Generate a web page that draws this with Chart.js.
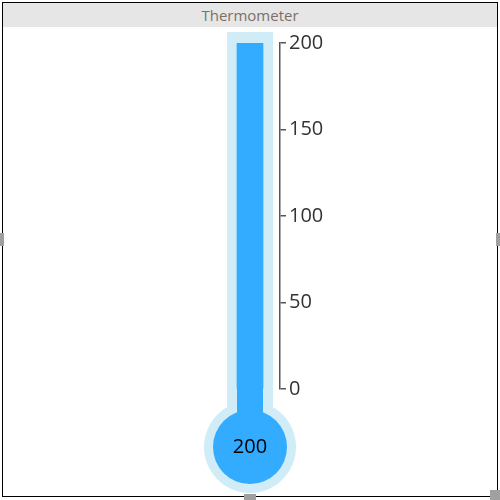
<!DOCTYPE html>
<html>
<head>
<meta charset="utf-8">
<script src="https://cdn.jsdelivr.net/npm/chart.js@4.4.0/dist/chart.umd.min.js"></script>
<style>
  body { margin: 0; background: #fff; width: 500px; height: 500px; position: relative; overflow: hidden; font-family: "Open Sans", sans-serif; }
  #frame { position: absolute; left: 2px; top: 2px; width: 494px; height: 493px; border: 1px solid #000; }
  #title { height: 24px; line-height: 24px; background: #e6e6e6; color: #7b6f68; font-size: 15px; text-align: center; }
  .grip { position: absolute; background: #a0a0a0; }
</style>
</head>
<body>
<div id="frame">
  <div id="title">Thermometer</div>
  <canvas id="chart" width="494" height="469"></canvas>
</div>
<div class="grip" style="left:0;top:233px;width:4px;height:13px"></div>
<div class="grip" style="left:496px;top:233px;width:4px;height:13px"></div>
<div class="grip" style="left:244px;top:494px;width:12px;height:6px"></div>
<div class="grip" style="left:490px;top:490px;width:10px;height:10px"></div>
<script>
const categories = ['Thermometer'];
const values = [200];
const tickValues = [0, 50, 100, 150, 200];
const axisMin = 0;
const axisMax = 200;

const glassColor = '#d0ecf7';
const mercuryColor = '#33abff';

// glass tube + bulb behind the bar, mercury bulb joined to the bar
const thermoPlugin = {
  id: 'thermo',
  beforeDatasetsDraw(chart) {
    const ctx = chart.ctx;
    const y = chart.scales.y;
    const bar = chart.getDatasetMeta(0).data[0];
    const cx = bar.x;
    const zero = y.getPixelForValue(axisMin);
    const top = y.getPixelForValue(axisMax);
    const bulbY = zero + 58;
    ctx.save();
    ctx.fillStyle = glassColor;
    ctx.fillRect(cx - 23, top - 11, 46, bulbY - top + 11);
    ctx.beginPath();
    ctx.arc(cx, bulbY, 46, 0, Math.PI * 2);
    ctx.fill();
    ctx.fillStyle = mercuryColor;
    ctx.fillRect(bar.x - bar.width / 2, zero - 6, bar.width, bulbY - zero + 6);
    ctx.beginPath();
    ctx.arc(cx, bulbY, 37, 0, Math.PI * 2);
    ctx.fill();
    ctx.restore();
  },
  afterDatasetsDraw(chart) {
    const ctx = chart.ctx;
    const bar = chart.getDatasetMeta(0).data[0];
    const bulbY = chart.scales.y.getPixelForValue(axisMin) + 58;
    ctx.save();
    ctx.fillStyle = '#000';
    ctx.font = '20px "Open Sans"';
    ctx.textAlign = 'center';
    ctx.textBaseline = 'middle';
    ctx.fillText(String(values[0]), bar.x, bulbY);
    ctx.restore();
  }
};

new Chart(document.getElementById('chart'), {
  type: 'bar',
  data: {
    labels: categories,
    datasets: [{
      data: values,
      backgroundColor: mercuryColor,
      borderWidth: 0,
      barThickness: 26
    }]
  },
  options: {
    responsive: false,
    animation: false,
    layout: { padding: { left: 217, right: 0, top: 16, bottom: 107 } },
    plugins: { legend: { display: false }, tooltip: { enabled: false } },
    scales: {
      x: { display: false },
      y: {
        position: 'right',
        min: axisMin,
        max: axisMax,
        afterBuildTicks: s => { s.ticks = tickValues.map(v => ({ value: v })); },
        afterFit: s => { s.width = 217; },
        border: { display: true, color: '#555', width: 1.5 },
        grid: { drawOnChartArea: false, tickLength: 6, color: '#555', lineWidth: 1.5 },
        ticks: { color: '#333', padding: 3, font: { family: 'Open Sans', size: 20 } }
      }
    }
  },
  plugins: [thermoPlugin]
});
</script>
</body>
</html>
